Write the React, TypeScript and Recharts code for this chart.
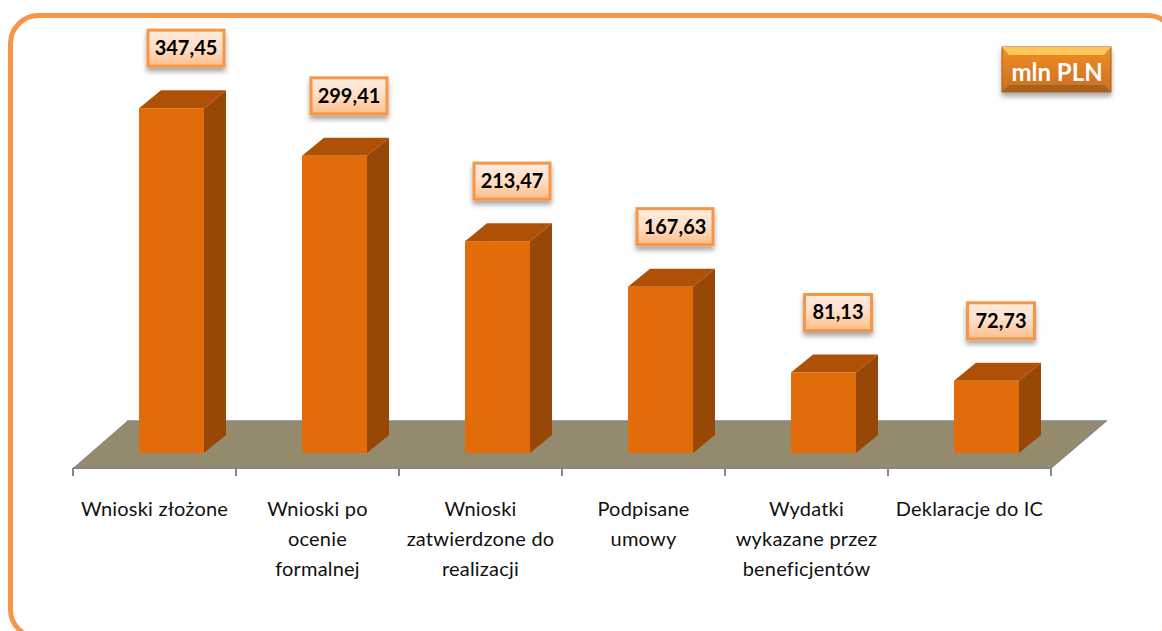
import { BarChart, Bar, XAxis, YAxis, LabelList, usePlotArea } from 'recharts';

const categories = [
  ['Wnioski złożone'],
  ['Wnioski po', 'ocenie', 'formalnej'],
  ['Wnioski', 'zatwierdzone do', 'realizacji'],
  ['Podpisane', 'umowy'],
  ['Wydatki', 'wykazane przez', 'beneficjentów'],
  ['Deklaracje do IC'],
];
const values = [347.45, 299.41, 213.47, 167.63, 81.13, 72.73];

const chartData = categories.map((lines, i) => ({ name: lines.join(' '), lines, value: values[i] }));

const FONT = 'Lato, "Open Sans", sans-serif';
const DEPTH_X = 22;
const DEPTH_Y = 18;
const SHIFT_X = 17;
const SHIFT_Y = -15;

const fmt = (v: number) => v.toFixed(2).replace('.', ',');

function Floor() {
  const plot = usePlotArea();
  if (!plot) return null;
  const left = plot.x;
  const right = plot.x + plot.width;
  const bottom = plot.y + plot.height;
  const points = [
    [left, bottom],
    [left + 54, bottom - 47],
    [right + 55, bottom - 47],
    [right, bottom],
  ]
    .map((p) => p.join(','))
    .join(' ');
  return (
    <g>
      <polygon points={points} fill="#948B6F" />
      <polyline
        points={`${left + 54},${bottom - 47} ${right + 55},${bottom - 47} ${right},${bottom}`}
        fill="none"
        stroke="#868686"
        strokeWidth={1.5}
      />
    </g>
  );
}

function Bar3D(props: any) {
  const { x, y, width, height } = props;
  const fx = x + SHIFT_X;
  const fy = y + SHIFT_Y;
  const r = fx + width;
  const b = fy + height;
  return (
    <g>
      <polygon
        points={`${fx},${fy} ${fx + DEPTH_X},${fy - DEPTH_Y} ${r + DEPTH_X},${fy - DEPTH_Y} ${r},${fy}`}
        fill="#AE5106"
      />
      <polygon
        points={`${r},${fy} ${r + DEPTH_X},${fy - DEPTH_Y} ${r + DEPTH_X},${b - DEPTH_Y} ${r},${b}`}
        fill="#974706"
      />
      <rect x={fx} y={fy} width={width} height={height} fill="#E36C0A" />
    </g>
  );
}

function ValueBox(props: any) {
  const { x, y, width, value } = props;
  const text = fmt(value);
  const w = text.length > 5 ? 76 : 67;
  const h = 36;
  const cx = x + width / 2 + SHIFT_X + 14.5;
  const cy = y + SHIFT_Y - 60;
  return (
    <g>
      <rect
        x={cx - w / 2}
        y={cy - h / 2}
        width={w}
        height={h}
        fill="url(#boxFill)"
        stroke="#F79646"
        strokeWidth={3}
        filter="url(#softShadow)"
      />
      <text
        x={cx}
        y={cy + 7}
        textAnchor="middle"
        fontFamily={FONT}
        fontWeight={700}
        fontSize={20}
        fill="#000"
      >
        {text}
      </text>
    </g>
  );
}

function CategoryTick(props: any) {
  const { x, y, index, payload } = props;
  const half = 978 / categories.length / 2;
  const lines = categories[index] ?? [payload.value];
  return (
    <g>
      <line x1={x - half} x2={x - half} y1={y - 8} y2={y} stroke="#868686" strokeWidth={2} />
      {index === categories.length - 1 && (
        <line x1={x + half} x2={x + half} y1={y - 8} y2={y} stroke="#868686" strokeWidth={2} />
      )}
      <text textAnchor="middle" fontFamily={FONT} fontSize={20} letterSpacing={0.2} fill="#111">
        {lines.map((line: string, i: number) => (
          <tspan key={line} x={x} y={y + 40 + i * 30}>
            {line}
          </tspan>
        ))}
      </text>
    </g>
  );
}

export default function App() {
  return (
    <div style={{ position: 'absolute', left: 0, top: 0, width: 1162, height: 631, overflow: 'hidden', background: '#fff' }}>
      <BarChart
        width={1162}
        height={631}
        data={chartData}
        margin={{ top: 71, right: 111, bottom: 0, left: 73 }}
      >
        <defs>
          <linearGradient id="boxFill" x1="0" y1="0" x2="0" y2="1">
            <stop offset="0%" stopColor="#FEEDE0" />
            <stop offset="50%" stopColor="#FEDDC4" />
            <stop offset="100%" stopColor="#FEBE8A" />
          </linearGradient>
          <linearGradient id="unitFill" x1="0" y1="0" x2="0" y2="1">
            <stop offset="0%" stopColor="#F28E22" />
            <stop offset="100%" stopColor="#C96F20" />
          </linearGradient>
          <filter id="softShadow" x="-20%" y="-20%" width="140%" height="160%">
            <feDropShadow dx="0" dy="4" stdDeviation="2.5" floodColor="#000" floodOpacity="0.35" />
          </filter>
        </defs>
        <rect x={10.5} y={15.5} width={1165} height={622} rx={28} ry={28} fill="#fff" stroke="#F79646" strokeWidth={5} />
        <Floor />
        <XAxis
          dataKey="name"
          interval={0}
          height={163}
          axisLine={{ stroke: '#868686', strokeWidth: 2 }}
          tickLine={false}
          tick={<CategoryTick />}
        />
        <YAxis hide domain={[0, 400]} />
        <Bar dataKey="value" barSize={65} isAnimationActive={false} shape={<Bar3D />}>
          <LabelList dataKey="value" content={<ValueBox />} />
        </Bar>
        <g>
          <rect x={1002} y={47} width={109} height={45} fill="url(#unitFill)" stroke="#A85C14" strokeWidth={1} filter="url(#softShadow)" />
          <polygon points="1002,47 1111,47 1104,55 1009,55" fill="#FFC65A" />
          <polygon points="1002,92 1111,92 1104,85 1009,85" fill="#A8601E" />
          <text x={1057} y={81} textAnchor="middle" fontFamily={FONT} fontWeight={700} fontSize={24} fill="#fff">
            mln PLN
          </text>
        </g>
      </BarChart>
    </div>
  );
}
